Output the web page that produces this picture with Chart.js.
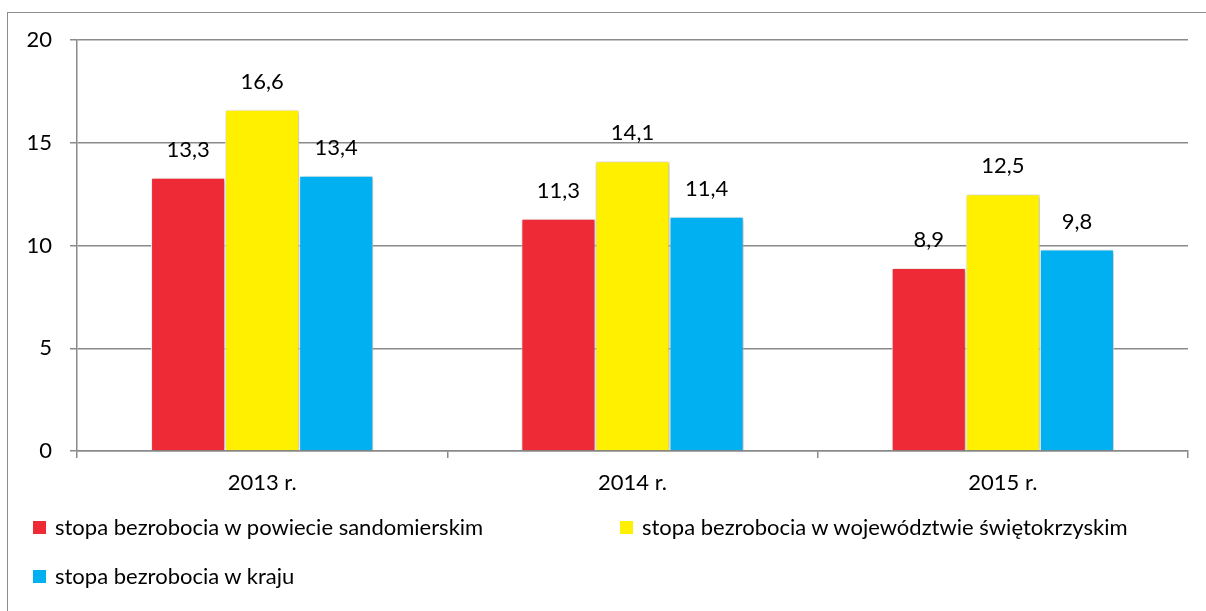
<!DOCTYPE html>
<html>
<head>
<meta charset="utf-8">
<script src="https://cdn.jsdelivr.net/npm/chart.js@4.4.0/dist/chart.umd.min.js"></script>
<style>
  html, body { margin: 0; padding: 0; background: #fff; }
  #wrap { position: relative; width: 1206px; height: 611px; overflow: hidden; }
  #frame { position: absolute; left: 7px; top: 12px; width: 1300px; height: 700px;
           border: 1.5px solid #8c8c8c; box-sizing: border-box; }
  #c { position: absolute; left: 0; top: 0; }
  .lg { position: absolute; font: 22px Lato, sans-serif; color: #000; white-space: nowrap;
        line-height: 26px; height: 26px; }
  .lg i { position: absolute; left: 0; top: 7px; width: 13px; height: 13px; }
  .lg span { position: absolute; left: 22px; top: 0; }
</style>
</head>
<body>
<div id="wrap">
  <div id="frame"></div>
  <canvas id="c" width="1206" height="611"></canvas>
  <div id="legend"></div>
</div>
<script>
// values
var years = ['2013 r.', '2014 r.', '2015 r.'];
var powiat = [13.3, 11.3, 8.9];
var wojewodztwo = [16.6, 14.1, 12.5];
var kraj = [13.4, 11.4, 9.8];
var seriesNames = [
  'stopa bezrobocia w powiecie sandomierskim',
  'stopa bezrobocia w województwie świętokrzyskim',
  'stopa bezrobocia w kraju'
];
var colors = ['#ED2A35', '#FFF000', '#00B0F0'];
var yTicks = [0, 5, 10, 15, 20];

var font = 'Lato, sans-serif';
var gridColor = '#8a8a8a';

function fmt(v) {
  return v.toFixed(1).replace('.', ',');
}

var barShadow = {
  id: 'barShadow',
  beforeDatasetsDraw: function(chart) {
    var ctx = chart.ctx;
    ctx.save();
    ctx.shadowColor = 'rgba(0,0,0,0.35)';
    ctx.shadowBlur = 4;
    ctx.shadowOffsetX = 1;
    ctx.shadowOffsetY = 1;
  },
  afterDatasetsDraw: function(chart) {
    chart.ctx.restore();
  }
};

var valueLabels = {
  id: 'valueLabels',
  afterDatasetsDraw: function(chart) {
    var ctx = chart.ctx;
    ctx.save();
    ctx.shadowColor = 'transparent';
    ctx.font = '22px ' + font;
    ctx.fillStyle = '#000';
    ctx.textAlign = 'center';
    ctx.textBaseline = 'middle';
    chart.data.datasets.forEach(function(ds, i) {
      chart.getDatasetMeta(i).data.forEach(function(bar, j) {
        ctx.fillText(fmt(ds.data[j]), bar.x, bar.y - 28);
      });
    });
    ctx.restore();
  }
};

var data = {
  labels: years,
  datasets: [powiat, wojewodztwo, kraj].map(function(vals, i) {
    return {
      label: seriesNames[i],
      data: vals,
      backgroundColor: colors[i],
      borderColor: '#ffffff',
      borderWidth: 1,
      categoryPercentage: 0.6,
      barPercentage: 1.0
    };
  })
};

var chart = new Chart(document.getElementById('c'), {
  type: 'bar',
  data: data,
  options: {
    responsive: false,
    animation: false,
    layout: { padding: { left: 0, top: 40, right: 18, bottom: 100 } },
    plugins: { legend: { display: false }, tooltip: { enabled: false } },
    scales: {
      x: {
        offset: true,
        grid: { offset: true, drawOnChartArea: false, drawTicks: true, tickLength: 7, color: gridColor, lineWidth: 1.5 },
        border: { display: true, color: gridColor, width: 1.5 },
        ticks: { font: { family: font, size: 22 }, color: '#000', padding: 12 },
        afterFit: function(s) { s.height = 60; }
      },
      y: {
        min: 0,
        max: 20,
        afterBuildTicks: function(s) { s.ticks = yTicks.map(function(v) { return { value: v }; }); },
        grid: { color: gridColor, tickLength: 7, lineWidth: 1.5 },
        border: { display: true, color: gridColor, width: 1.5 },
        ticks: { font: { family: font, size: 22 }, color: '#000', padding: 18 },
        afterFit: function(s) { s.width = 77; }
      }
    }
  },
  plugins: [barShadow, valueLabels]
});

// legend laid out like the original (two columns, two rows)
var legendPos = [[33, 514], [620, 514], [33, 563]];
var lg = document.getElementById('legend');
seriesNames.forEach(function(name, i) {
  var d = document.createElement('div');
  d.className = 'lg';
  d.style.left = legendPos[i][0] + 'px';
  d.style.top = legendPos[i][1] + 'px';
  d.innerHTML = '<i style="background:' + colors[i] + '"></i><span>' + name + '</span>';
  lg.appendChild(d);
});
</script>
</body>
</html>
